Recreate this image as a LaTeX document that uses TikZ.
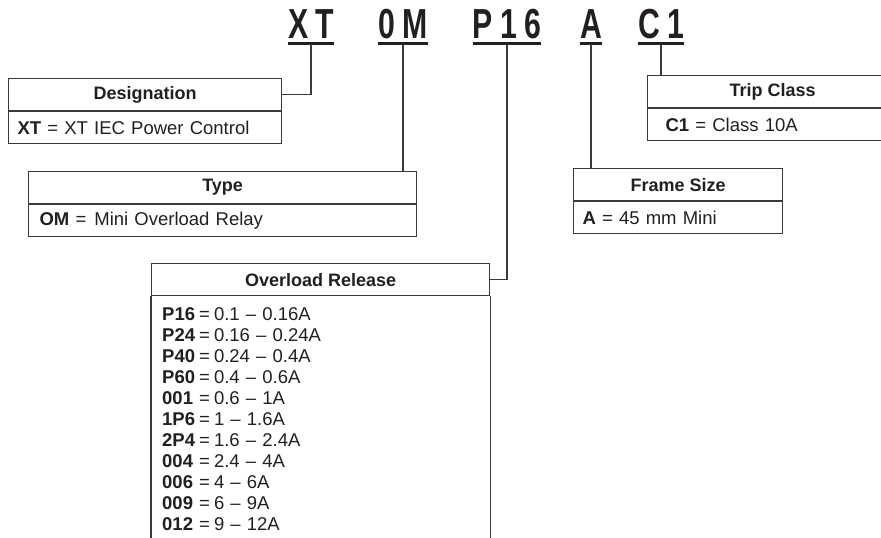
\documentclass[tikz,border=0pt]{standalone}
\usepackage{fontspec}
\setmainfont{Liberation Sans}
\usepackage{graphicx}
\usetikzlibrary{positioning}

\definecolor{inkgray}{HTML}{231F20}
\definecolor{linegray}{HTML}{3A3A3A}

% one row of the overload release list
\newcommand{\relayrow}[2]{\makebox[37pt][l]{\textbf{#1}}=\hspace{4pt}#2}

\tikzset{
  codechar/.style={inner sep=0pt, anchor=base, text=inkgray,
    font=\fontsize{42}{42}\selectfont\bfseries},
  uline/.style={line width=3pt, inkgray},
  wire/.style={line width=1.1pt, linegray},
  boxline/.style={line width=1.2pt, linegray},
  headbox/.style={draw=linegray, line width=1.2pt, anchor=north west,
    minimum height=32pt, inner sep=0pt, text=inkgray,
    font=\fontsize{18}{20}\selectfont\bfseries},
  bodybox/.style={draw=linegray, line width=1.2pt, anchor=north west,
    minimum height=32pt, inner xsep=9pt, inner ysep=0pt, align=left,
    text=inkgray, font=\fontsize{18.5}{20}\selectfont},
  listtext/.style={anchor=north west, inner sep=0pt, align=left,
    text width=300pt, text=inkgray, font=\fontsize{18.5}{21}\selectfont}
}

\begin{document}
\begin{tikzpicture}[x=1pt, y=-1pt]
    \useasboundingbox (0,0) rectangle (881,538);
    \clip (0,0) rectangle (881,538);

    % Catalog number
    \node[codechar] (xt) at (311,38) {\scalebox{0.72}[1]{X\hspace{10pt}T}};
    \node[codechar] (om) at (403,38) {\scalebox{0.72}[1]{0\hspace{10pt}M}};
    \node[codechar] (p16) at (507,38) {\scalebox{0.72}[1]{P\hspace{10pt}1\hspace{10pt}6}};
    \node[codechar] (a) at (591,38) {\scalebox{0.72}[1]{A}};
    \node[codechar] (c1) at (661,38) {\scalebox{0.72}[1]{C\hspace{10pt}1}};
    \foreach \c in {xt,om,p16,a,c1} {
        \draw[uline] ([yshift=-5.5pt]\c.base west) -- ([yshift=-5.5pt]\c.base east);
        \coordinate (tick\c) at ([yshift=-5.5pt]\c.base);
    }

    % Designation
    \node[headbox, minimum width=273pt] (desghead) at (8,78) {Designation};
    \node[bodybox, text width=255pt] (desgbody) at (desghead.south west) {\textbf{XT} = XT IEC Power Control};
    \draw[wire] (desghead.east) -| (tickxt);

    % Type
    \node[headbox, minimum width=388pt] (typehead) at (28,171) {Type};
    \node[bodybox, inner xsep=11pt, text width=366pt] (typebody) at (typehead.south west) {\textbf{OM} =\hspace{8pt}Mini Overload Relay};
    \draw[wire] (typehead.north -| tickom) -- (tickom);

    % Overload release (box runs off the bottom)
    \node[headbox, minimum width=338pt] (ovlhead) at (151,263) {Overload Release};
    \draw[boxline] (ovlhead.south west) -- ++(0,260);
    \draw[boxline] (ovlhead.south east) -- ++(0,260);
    \node[listtext] (ovllist) at ([xshift=11pt, yshift=-11pt]ovlhead.south west) {%
        \relayrow{P16}{0.1 -- 0.16A}\\
        \relayrow{P24}{0.16 -- 0.24A}\\
        \relayrow{P40}{0.24 -- 0.4A}\\
        \relayrow{P60}{0.4 -- 0.6A}\\
        \relayrow{001}{0.6 -- 1A}\\
        \relayrow{1P6}{1 -- 1.6A}\\
        \relayrow{2P4}{1.6 -- 2.4A}\\
        \relayrow{004}{2.4 -- 4A}\\
        \relayrow{006}{4 -- 6A}\\
        \relayrow{009}{6 -- 9A}\\
        \relayrow{012}{9 -- 12A}};
    \draw[wire] (ovlhead.east) -| (tickp16);

    % Frame size
    \node[headbox, minimum width=209pt] (framehead) at (573,168) {Frame Size};
    \node[bodybox, text width=191pt] (framebody) at (framehead.south west) {\textbf{A} = 45 mm Mini};
    \draw[wire] (framehead.north -| ticka) -- (ticka);

    % Trip class (box runs off the right edge)
    \node[headbox, minimum width=250pt] (triphead) at (647,75) {Trip Class};
    \node[bodybox, inner xsep=18pt, text width=214pt] (tripbody) at (triphead.south west) {\textbf{C1} = Class 10A};
    \draw[wire] (triphead.north -| tickc1) -- (tickc1);
\end{tikzpicture}
\end{document}
